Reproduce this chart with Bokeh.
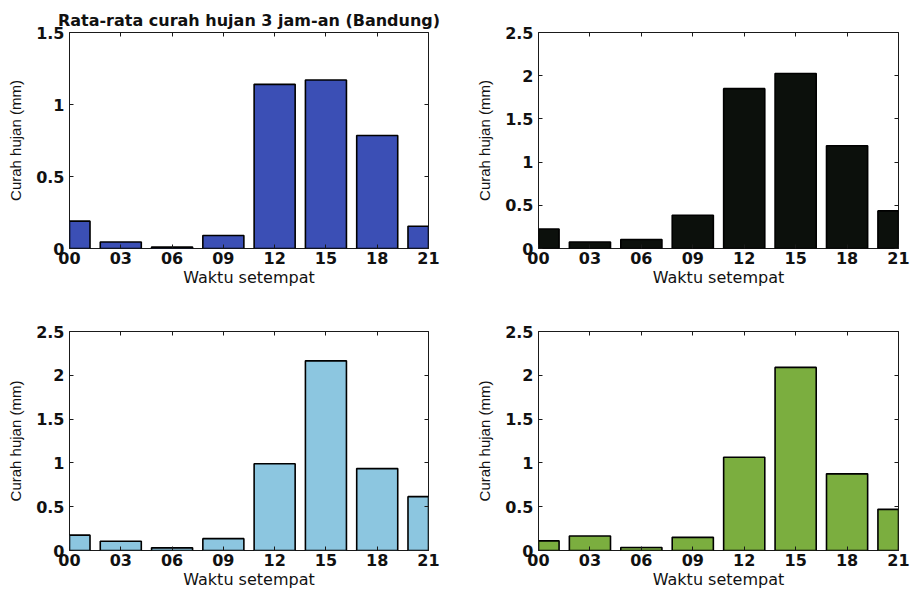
from bokeh.plotting import figure
from bokeh.layouts import gridplot
from bokeh.models import Range1d, FixedTicker, LinearAxis
from bokeh.embed import file_html
from bokeh.resources import INLINE

# ---- data ----
hours = [0, 3, 6, 9, 12, 15, 18, 21]
hour_labels = ["00", "03", "06", "09", "12", "15", "18", "21"]

rain_a = [0.19, 0.045, 0.01, 0.09, 1.14, 1.17, 0.785, 0.155]   # blue
rain_b = [0.225, 0.075, 0.105, 0.385, 1.85, 2.025, 1.19, 0.435]  # black
rain_c = [0.175, 0.105, 0.03, 0.135, 0.99, 2.165, 0.935, 0.615]  # light blue
rain_d = [0.11, 0.165, 0.035, 0.15, 1.065, 2.09, 0.875, 0.47]   # green

yticks_a = [0, 0.5, 1, 1.5]
ylabels_a = ["0", "0.5", "1", "1.5"]
yticks_b = [0, 0.5, 1, 1.5, 2, 2.5]
ylabels_b = ["0", "0.5", "1", "1.5", "2", "2.5"]

title_text = "Rata-rata curah hujan 3 jam-an (Bandung)"
xlabel = "Waktu setempat"
ylabel = "Curah hujan (mm)"

TICK_FONT = "DejaVu Sans"
LABEL_FONT = "DejaVu Sans"
YLABEL_FONT = "Liberation Sans"


def make_panel(vals, color, ymax, yticks, ylabels, width, height,
               bl, br, bt, bb, title=None):
    p = figure(width=width, height=height, output_backend="svg",
               toolbar_location=None, x_range=Range1d(0, 21),
               y_range=Range1d(0, ymax), x_axis_type=None, y_axis_type=None,
               min_border_left=bl, min_border_right=br,
               min_border_top=bt, min_border_bottom=bb,
               background_fill_color="white", border_fill_color="white")
    p.xgrid.visible = False
    p.ygrid.visible = False
    p.outline_line_color = "#1a1a1a"
    p.outline_line_width = 1

    p.vbar(x=hours, top=vals, width=2.4, bottom=0,
           fill_color=color, line_color="black", line_width=1.6)

    xover = {h: l for h, l in zip(hours, hour_labels)}
    yover = {t: l for t, l in zip(yticks, ylabels)}

    # bottom axis
    xb = LinearAxis(ticker=FixedTicker(ticks=hours), major_label_overrides=xover)
    xb.axis_label = xlabel
    # left axis
    yl = LinearAxis(ticker=FixedTicker(ticks=yticks), major_label_overrides=yover)
    yl.axis_label = ylabel
    # top / right (tick marks only)
    xt = LinearAxis(ticker=FixedTicker(ticks=hours))
    yr = LinearAxis(ticker=FixedTicker(ticks=yticks))

    for ax in (xb, yl, xt, yr):
        ax.axis_line_color = None
        ax.major_tick_in = 4
        ax.major_tick_out = 0
        ax.major_tick_line_color = "#1a1a1a"
        ax.minor_tick_line_color = None
        ax.major_label_text_font = TICK_FONT
        ax.major_label_text_font_style = "bold"
        ax.major_label_text_font_size = "16px"
        ax.major_label_text_color = "#111111"

    for ax in (xt, yr):
        ax.major_label_text_font_size = "1px"
        ax.major_label_text_color = None
        ax.major_label_standoff = 0

    xb.major_label_standoff = 3
    xb.axis_label_standoff = 1
    xb.axis_label_text_font = LABEL_FONT
    xb.axis_label_text_font_style = "normal"
    xb.axis_label_text_font_size = "16px"
    xb.axis_label_text_color = "#111111"

    yl.major_label_standoff = 5
    yl.axis_label_standoff = 9
    yl.axis_label_text_font = YLABEL_FONT
    yl.axis_label_text_font_style = "normal"
    yl.axis_label_text_font_size = "15px"
    yl.axis_label_text_color = "#111111"

    p.add_layout(xb, "below")
    p.add_layout(yl, "left")
    p.add_layout(xt, "above")
    p.add_layout(yr, "right")

    if title:
        p.title.text = title
        p.title.align = "center"
        p.title.text_font = LABEL_FONT
        p.title.text_font_style = "bold"
        p.title.text_font_size = "16px"
        p.title.text_color = "#111111"
        p.title.standoff = 6
    return p


p1 = make_panel(rain_a, "#3b4fb5", 1.5, yticks_a, ylabels_a, 455, 298, 68, 27, 32, 49,
                title=title_text)
p2 = make_panel(rain_b, "#0c100c", 2.5, yticks_b, ylabels_b, 455, 298, 82, 12, 31, 50)
p3 = make_panel(rain_c, "#8cc6e0", 2.5, yticks_b, ylabels_b, 455, 297, 69, 26, 33, 42)
p4 = make_panel(rain_d, "#7bae3f", 2.5, yticks_b, ylabels_b, 455, 297, 83, 10, 33, 45)

grid = gridplot([[p1, p2], [p3, p4]], toolbar_location=None)

open("out.html", "w").write(file_html(grid, INLINE))
